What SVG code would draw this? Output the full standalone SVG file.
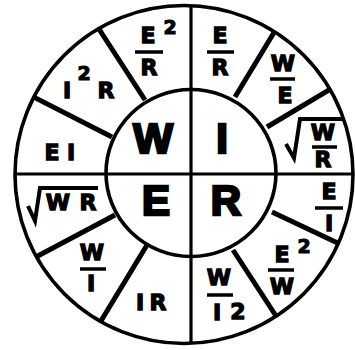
<svg xmlns="http://www.w3.org/2000/svg" width="355" height="350" viewBox="0 0 355 350">
<style>
.ln{stroke:#000;fill:none}
.sp{stroke-width:5}
.ax{stroke-width:3.2}
.bar{stroke:#000;stroke-width:3.5}
.rad{stroke:#000;stroke-width:4;fill:none;stroke-linejoin:miter}
.big{font-family:"Liberation Sans",Arial,sans-serif;font-weight:bold;font-size:42px;text-anchor:middle;fill:#000;stroke:#000;stroke-width:2.6}
.t{font-family:"DejaVu Sans",sans-serif;font-weight:bold;font-size:22px;text-anchor:middle;fill:#000;stroke:#000;stroke-width:1.3}
.s{font-family:"DejaVu Sans",sans-serif;font-weight:bold;font-size:19px;text-anchor:middle;fill:#000;stroke:#000;stroke-width:1.1}
</style>
<defs>
<clipPath id="outer"><circle cx="184" cy="174.5" r="169"/></clipPath>
</defs>
<rect width="355" height="350" fill="#fff"/>
<g id="connectors">
<g clip-path="url(#outer)">
<line class="ln sp" x1="145" y1="100" x2="84" y2="6"/>
<line class="ln sp" x1="112" y1="137" x2="12" y2="86"/>
<line class="ln sp" x1="235" y1="97" x2="287" y2="11"/>
<line class="ln sp" x1="267" y1="127" x2="359" y2="72"/>
<line class="ln sp" x1="272" y1="212" x2="363" y2="255"/>
<line class="ln sp" x1="233" y1="250" x2="293" y2="342"/>
<line class="ln sp" x1="147" y1="245" x2="87" y2="344"/>
<line class="ln sp" x1="115" y1="215" x2="17" y2="267"/>
<line class="ln ax" x1="0" y1="174" x2="355" y2="174"/>
<line class="ln ax" x1="191" y1="0" x2="191" y2="350"/>
</g>
<circle class="ln" cx="184" cy="174.5" r="169" stroke-width="3.6"/>
<ellipse class="ln" cx="191" cy="173" rx="85" ry="83.5" stroke-width="3.6"/>
</g>
<g id="W"><text class="big" x="153" y="153">W</text></g>
<g id="I"><text class="big" x="222" y="153">I</text></g>
<g id="E"><text class="big" x="156" y="215">E</text></g>
<g id="R"><text class="big" x="226" y="215">R</text></g>
<g id="E2-over-R"><text class="t" x="148" y="43">E</text><text class="s" x="170" y="34">2</text><line class="bar" x1="135" y1="52" x2="163" y2="52"/><text class="t" x="149" y="75">R</text></g>
<g id="E-over-R"><text class="t" x="220" y="43">E</text><line class="bar" x1="207" y1="52" x2="234" y2="52"/><text class="t" x="220" y="75">R</text></g>
<g id="W-over-E"><text class="t" x="283" y="71">W</text><line class="bar" x1="270" y1="79" x2="295" y2="79"/><text class="t" x="285" y="103">E</text></g>
<g id="sqrt-W-over-R"><path class="rad" d="M286,144 L294,158 L300,119 L342,119"/><text class="t" x="323" y="140">W</text><line class="bar" x1="312" y1="147" x2="337" y2="147"/><text class="t" x="323" y="167">R</text></g>
<g id="E-over-I"><text class="t" x="329" y="199">E</text><line class="bar" x1="315" y1="208" x2="343" y2="208"/><text class="t" x="329" y="231">I</text></g>
<g id="E2-over-W"><text class="t" x="282" y="262">E</text><text class="s" x="304" y="253">2</text><line class="bar" x1="268" y1="270" x2="294" y2="270"/><text class="t" x="282" y="294">W</text></g>
<g id="W-over-I2"><text class="t" x="219" y="285">W</text><line class="bar" x1="207" y1="295" x2="233" y2="295"/><text class="t" x="217" y="320">I</text><text class="t" x="238" y="319">2</text></g>
<g id="IR"><text class="t" x="140" y="310">I</text><text class="t" x="158" y="310">R</text></g>
<g id="W-over-I"><text class="t" x="92" y="260">W</text><line class="bar" x1="80" y1="269" x2="106" y2="269"/><text class="t" x="91" y="291">I</text></g>
<g id="sqrt-WR"><path class="rad" d="M28,206 L35,221 L40,188 L98,188"/><text class="t" x="58" y="210">W</text><text class="t" x="88" y="210">R</text></g>
<g id="EI"><text class="t" x="52" y="160">E</text><text class="t" x="71" y="160">I</text></g>
<g id="I2R"><text class="t" x="67" y="98">I</text><text class="s" x="84" y="80">2</text><text class="t" x="106" y="98">R</text></g>
</svg>
